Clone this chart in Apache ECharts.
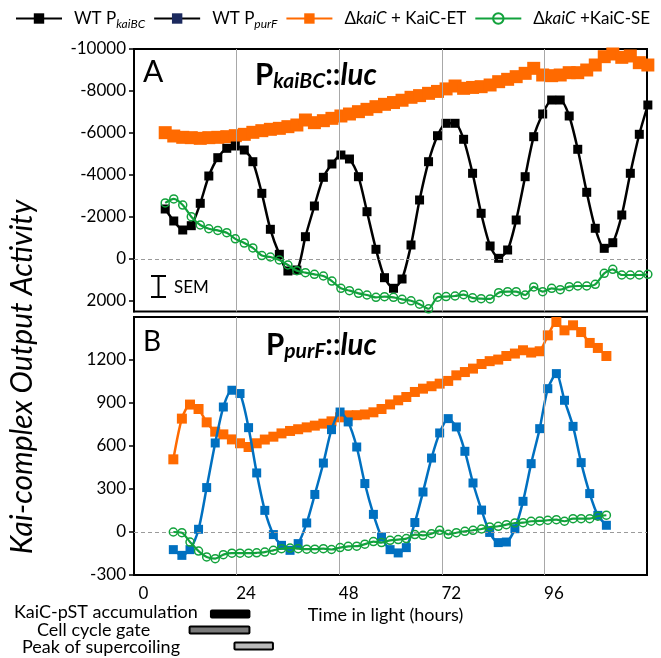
<!DOCTYPE html>
<html><head><meta charset="utf-8">
<script src="https://cdn.jsdelivr.net/npm/echarts@6/dist/echarts.min.js"></script>
<style>html,body{margin:0;padding:0;background:#fff}#c{width:661px;height:658px}</style>
</head><body><div id="c"></div>
<script>
// ---- data ----
const timeA = [7.3, 9.3, 11.4, 13.4, 15.5, 17.5, 19.6, 21.7, 23.7, 25.8, 27.8, 29.9, 31.9, 34.0, 36.0, 38.1, 40.1, 42.2, 44.3, 46.3, 48.4, 50.4, 52.5, 54.5, 56.6, 58.6, 60.7, 62.7, 64.8, 66.8, 68.9, 71.0, 73.0, 75.1, 77.1, 79.2, 81.2, 83.3, 85.3, 87.4, 89.4, 91.5, 93.5, 95.6, 97.7, 99.7, 101.8, 103.8, 105.9, 107.9, 110.0, 112.0, 114.1, 116.1, 118.2, 120.2];
const kaiBC_WT = [-2381, -1810, -1381, -1586, -2652, -3952, -4824, -5271, -5381, -5190, -4633, -3127, -1414, -224, 571, 524, -1062, -2524, -3890, -4524, -4952, -4762, -3919, -2252, -462, 890, 1395, 952, -667, -2810, -4633, -5871, -6462, -6462, -5700, -4081, -2176, -619, -33, -429, -1857, -3919, -5824, -6905, -7571, -7571, -6810, -5224, -3176, -1462, -508, -776, -2095, -4081, -5938, -7333];
const kaiBC_ET = [-6016, -5857, -5794, -5778, -5746, -5778, -5794, -5825, -5873, -5936, -6032, -6111, -6175, -6222, -6302, -6381, -6619, -6492, -6587, -6698, -6810, -6905, -7016, -7127, -7254, -7365, -7450, -7560, -7700, -7780, -7889, -7980, -8100, -8238, -8127, -8170, -8206, -8286, -8444, -8556, -8683, -8841, -9079, -8762, -8730, -8762, -8873, -8873, -9000, -9238, -9635, -9762, -9603, -9667, -9349, -9238];
const kaiBC_SE = [-2670, -2860, -2570, -2016, -1619, -1440, -1360, -1254, -960, -760, -525, -165, -95, 48, 286, 560, 650, 730, 810, 1050, 1397, 1508, 1635, 1714, 1825, 1794, 1825, 1921, 1990, 2150, 2370, 1820, 1790, 1762, 1700, 1850, 1890, 1900, 1603, 1556, 1556, 1714, 1330, 1556, 1397, 1460, 1317, 1286, 1286, 1206, 683, 492, 762, 762, 762, 730];

const timeB = [9.2, 11.2, 13.1, 15.1, 17.0, 19.0, 20.9, 22.9, 24.8, 26.8, 28.7, 30.6, 32.6, 34.5, 36.5, 38.4, 40.4, 42.3, 44.3, 46.2, 48.2, 50.1, 52.1, 54.0, 56.0, 57.9, 59.9, 61.8, 63.7, 65.7, 67.6, 69.6, 71.5, 73.5, 75.4, 77.4, 79.3, 81.3, 83.2, 85.2, 87.1, 89.1, 91.0, 92.9, 94.9, 96.8, 98.8, 100.7, 102.7, 104.6, 106.6, 108.5, 110.5];
const purF_WT = [-123, -163, -123, 19, 310, 621, 872, 989, 966, 728, 412, 151, -18, -93, -128, -81, 63, 262, 481, 714, 837, 768, 593, 338, 123, -35, -123, -146, -109, 66, 279, 516, 691, 791, 733, 563, 342, 153, -3, -74, -70, 23, 214, 477, 721, 1000, 1105, 919, 737, 484, 268, 116, 47];
const purF_ET = [507, 791, 889, 858, 765, 700, 681, 646, 619, 593, 619, 645, 665, 688, 705, 717, 730, 742, 756, 772, 800, 814, 815, 820, 835, 858, 890, 919, 942, 977, 1000, 1017, 1035, 1054, 1093, 1116, 1140, 1172, 1192, 1203, 1228, 1245, 1268, 1252, 1261, 1372, 1465, 1407, 1442, 1395, 1319, 1284, 1228];
const purF_SE = [0, -5, -70, -133, -174, -186, -158, -148, -148, -148, -145, -140, -128, -116, -112, -116, -120, -120, -116, -122, -109, -100, -99, -85, -67, -74, -58, -53, -46, -18, -23, -12, 12, -16, -5, 5, 12, 21, 35, 40, 51, 63, 65, 75, 77, 82, 86, 75, 93, 93, 93, 110, 117];

const xTicks = [0, 24, 48, 72, 96];
const yTicksA = [-10000, -8000, -6000, -4000, -2000, 0, 2000];
const yTicksB = [-300, 0, 300, 600, 900, 1200];
const vLines = [24, 48, 72, 96];

const phaseNames = ['KaiC-pST accumulation', 'Cell cycle gate', 'Peak of supercoiling'];
const phaseStart = [18, 13, 23.5];
const phaseEnd = [27, 27, 32.5];

const legendNames = ['WT PkaiBC', 'WT PpurF', 'ΔkaiC + KaiC-ET', 'ΔkaiC +KaiC-SE'];

// ---- styling ----
const FONT = 'Lato';
const BLACK = '#000000', ORANGE = '#ff6a00', GREEN = '#12a23c', BLUE = '#0070c0';
const phaseColors = ['#000000', '#7a7a7a', '#bababa'];

function zip(t, v) { return t.map((x, i) => [x, v[i]]); }

function guideSeries(idx) {
  return {
    type: 'line', xAxisIndex: idx, yAxisIndex: idx, data: [[0, 0]], symbol: 'none',
    lineStyle: { opacity: 0 }, silent: true, z: 1, legendHoverLink: false,
    markLine: {
      silent: true, symbol: 'none', animation: false, label: { show: false },
      data: [{ yAxis: 0, lineStyle: { type: [4, 3], color: '#9a9a9a', width: 1 } }]
        .concat(vLines.map(v => ({ xAxis: v, lineStyle: { type: 'solid', color: '#a8a8a8', width: 1 } })))
    }
  };
}

function sq(name, idx, t, v, color, size, lw, z) {
  return {
    name, type: 'line', xAxisIndex: idx, yAxisIndex: idx, data: zip(t, v),
    symbol: 'rect', symbolSize: size, smooth: 0.25, clip: false, z,
    itemStyle: { color }, lineStyle: { color, width: lw }
  };
}
function circ(name, idx, t, v, z) {
  return {
    name, type: 'line', xAxisIndex: idx, yAxisIndex: idx, data: zip(t, v),
    symbol: 'circle', symbolSize: 8, smooth: 0.25, clip: false, z,
    itemStyle: { color: 'rgba(255,255,255,0)', borderColor: GREEN, borderWidth: 1.5 },
    lineStyle: { color: GREEN, width: 2.2 }
  };
}

const GL = 134, GW = 513;
const axisLabelStyle = { fontFamily: FONT, fontSize: 17, color: '#000' };
const plain = v => String(v);

const option = {
  animation: false,
  backgroundColor: '#fff',
  textStyle: { fontFamily: FONT },
  legend: {
    left: 10, top: 5, itemWidth: 46, itemHeight: 13, itemGap: 8,
    data: [
      { name: legendNames[0] },
      { name: legendNames[1], itemStyle: { color: '#1c2a5e' }, lineStyle: { color: '#000' } },
      { name: legendNames[2] },
      { name: legendNames[3] }
    ],
    formatter: function (n) {
      if (n === legendNames[0]) return '{n|WT P}{s|kaiBC}';
      if (n === legendNames[1]) return '{n|WT P}{s|purF}';
      if (n === legendNames[2]) return '{n|Δ}{i|kaiC}{n| + KaiC-ET}';
      return '{n|Δ}{i|kaiC}{n| +KaiC-SE}';
    },
    textStyle: {
      padding: [0, 0, 0, 7],
      rich: {
        n: { fontFamily: FONT, fontSize: 17, color: '#000', lineHeight: 24 },
        i: { fontFamily: FONT, fontSize: 17, fontStyle: 'italic', color: '#000', lineHeight: 24 },
        s: { fontFamily: FONT, fontSize: 12, fontStyle: 'italic', color: '#000', lineHeight: 13, verticalAlign: 'bottom' }
      }
    }
  },
  grid: [
    { left: GL, top: 49, width: GW, height: 262.5, show: true, borderColor: '#000', borderWidth: 2, backgroundColor: 'transparent' },
    { left: GL, top: 317, width: GW, height: 258, show: true, borderColor: '#000', borderWidth: 2, backgroundColor: 'transparent' },
    { left: GL, top: 606, width: GW, height: 48 }
  ],
  xAxis: [
    { gridIndex: 0, type: 'value', min: 0, max: 120, show: true, axisLine: { show: false }, axisTick: { show: false }, axisLabel: { show: false }, splitLine: { show: false } },
    { gridIndex: 1, type: 'value', min: 0, max: 120, interval: 24,
      axisLine: { show: false }, axisTick: { show: false }, splitLine: { show: false },
      axisLabel: Object.assign({ customValues: xTicks, margin: 10, padding: [0, 0, 0, 19], formatter: plain }, axisLabelStyle),
      name: 'Time in light (hours)', nameLocation: 'middle', nameGap: 31,
      nameTextStyle: { fontFamily: FONT, fontSize: 18, color: '#000', padding: [0, 10, 0, 0] } },
    { gridIndex: 2, type: 'value', min: 0, max: 120, show: false }
  ],
  yAxis: [
    { gridIndex: 0, type: 'value', inverse: true, min: -10000, max: 2500, interval: 2000,
      axisLine: { show: true, lineStyle: { color: '#000', width: 2 } },
      axisTick: { show: true, length: 5, customValues: yTicksA, lineStyle: { color: '#000', width: 1.5 } },
      axisLabel: Object.assign({ customValues: yTicksA, margin: 8, formatter: plain }, axisLabelStyle),
      splitLine: { show: false } },
    { gridIndex: 1, type: 'value', min: -300, max: 1500, interval: 300,
      axisLine: { show: true, lineStyle: { color: '#000', width: 2 } },
      axisTick: { show: true, length: 5, customValues: yTicksB, lineStyle: { color: '#000', width: 1.5 } },
      axisLabel: Object.assign({ customValues: yTicksB, margin: 8, formatter: plain }, axisLabelStyle),
      splitLine: { show: false } },
    { gridIndex: 2, type: 'category', data: phaseNames, inverse: true, show: false }
  ],
  series: [
    guideSeries(0),
    sq(legendNames[2], 0, timeA, kaiBC_ET, ORANGE, 13, 2.5, 3),
    sq(legendNames[0], 0, timeA, kaiBC_WT, BLACK, 9, 2.5, 4),
    circ(legendNames[3], 0, timeA, kaiBC_SE, 5),
    guideSeries(1),
    sq(legendNames[2], 1, timeB, purF_ET, ORANGE, 10, 2.5, 3),
    sq(legendNames[1], 1, timeB, purF_WT, BLUE, 9, 2.5, 4),
    circ(legendNames[3], 1, timeB, purF_SE, 5),
    {
      type: 'custom', xAxisIndex: 2, yAxisIndex: 2, silent: true, z: 3,
      data: phaseNames.map((n, i) => [i, phaseStart[i], phaseEnd[i]]),
      encode: { x: [1, 2], y: 0 },
      renderItem: function (params, api) {
        const i = api.value(0);
        const p0 = api.coord([api.value(1), i]);
        const p1 = api.coord([api.value(2), i]);
        const h = 9, b = 2;
        return { type: 'group', children: [
          { type: 'rect', shape: { x: p0[0] - 1, y: p0[1] - h / 2, width: p1[0] - p0[0] + 2, height: h, r: 2 },
            style: { fill: '#000000' } },
          { type: 'rect', shape: { x: p0[0] - 1 + b, y: p0[1] - h / 2 + b, width: p1[0] - p0[0] + 2 - 2 * b, height: h - 2 * b },
            style: { fill: phaseColors[i] } }
        ] };
      }
    }
  ],
  graphic: [
    { type: 'text', x: 22, y: 377, rotation: Math.PI / 2,
      style: { text: 'Kai-complex Output Activity', font: 'italic 30px Lato', fill: '#000', textAlign: 'center', textVerticalAlign: 'middle' } },
    { type: 'text', x: 143, y: 57, style: { text: 'A', font: '30px Lato', fill: '#000' } },
    { type: 'text', x: 143, y: 328, style: { text: 'B', font: '28px Lato', fill: '#000' } },
    { type: 'text', x: 255, y: 58, style: { text: '{p|P}{s|kaiBC}{p|::}{i|luc}',
        rich: { p: { font: 'bold 29.5px Lato', fill: '#000', lineHeight: 34 },
                i: { font: 'bold italic 29.5px Lato', fill: '#000', lineHeight: 34 },
                s: { font: 'bold italic 21px Lato', fill: '#000', lineHeight: 23, verticalAlign: 'bottom' } } } },
    { type: 'text', x: 266, y: 328, style: { text: '{p|P}{s|purF}{p|::}{i|luc}',
        rich: { p: { font: 'bold 29.5px Lato', fill: '#000', lineHeight: 34 },
                i: { font: 'bold italic 29.5px Lato', fill: '#000', lineHeight: 34 },
                s: { font: 'bold italic 21px Lato', fill: '#000', lineHeight: 23, verticalAlign: 'bottom' } } } },
    { type: 'line', shape: { x1: 151, y1: 276, x2: 166, y2: 276 }, style: { stroke: '#000', lineWidth: 2 } },
    { type: 'line', shape: { x1: 158.5, y1: 276, x2: 158.5, y2: 297 }, style: { stroke: '#000', lineWidth: 2 } },
    { type: 'line', shape: { x1: 151, y1: 297, x2: 166, y2: 297 }, style: { stroke: '#000', lineWidth: 2 } },
    { type: 'text', x: 174, y: 288, style: { text: 'SEM', font: '17px Lato', fill: '#000', textVerticalAlign: 'middle' } },
    { type: 'text', x: 14, y: 612, style: { text: phaseNames[0], font: '18px Lato', fill: '#000', textVerticalAlign: 'middle' } },
    { type: 'text', x: 37, y: 630, style: { text: phaseNames[1], font: '18px Lato', fill: '#000', textVerticalAlign: 'middle' } },
    { type: 'text', x: 22, y: 647, style: { text: phaseNames[2], font: '18px Lato', fill: '#000', textVerticalAlign: 'middle' } }
  ]
};

const chart = echarts.init(document.getElementById('c'), null, { renderer: 'canvas' });
chart.setOption(option);
</script>
</body></html>
